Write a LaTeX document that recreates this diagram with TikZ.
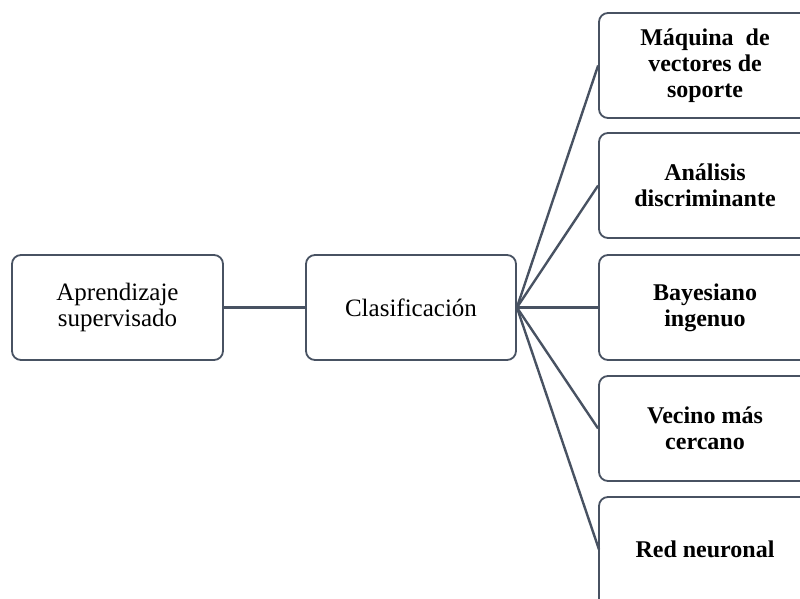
\documentclass[tikz,border=0pt]{standalone}
\usepackage{fontspec}
\setmainfont{Liberation Serif}
\definecolor{boxline}{RGB}{72,82,98}
\begin{document}
\begin{tikzpicture}[x=1pt,y=-1pt,
  box/.style={draw=boxline, line width=1.8pt, rounded corners=9pt, fill=white,
    minimum width=211pt, minimum height=105pt, align=center, inner sep=0pt,
    font=\fontsize{25}{26}\selectfont},
  leaf/.style={box, minimum width=212pt, font=\fontsize{24}{26}\selectfont\bfseries},
  link/.style={draw=boxline, line width=2.4pt}]
\useasboundingbox (0,0) rectangle (800,599);
\clip (0,0) rectangle (800,599);
% main chain
\node[box] (sup) at (117.5,307.5) {Aprendizaje\\supervisado};
\node[box, minimum width=210pt] (cls) at (411,307.5) {Clasificación};
% methods column
\node[leaf] (svm) at (705,65.5) {Máquina~~de\\vectores de\\soporte};
\node[leaf] (lda) at (705,185.5) {Análisis\\discriminante};
\node[leaf] (nb)  at (705,307.5) {Bayesiano\\ingenuo};
\node[leaf] (knn) at (705,428.5) {Vecino más\\cercano};
\node[leaf, minimum height=120pt, text depth=15pt] (nn) at (705,557) {Red neuronal};
\coordinate (nnin) at (599,549.5);
% links
\draw[link] (sup.east) -- (cls.west);
\foreach \m in {svm,lda,nb,knn}
  \draw[link] (cls.east) -- (\m.west);
\draw[link] (cls.east) -- (nnin);
\end{tikzpicture}
\end{document}
